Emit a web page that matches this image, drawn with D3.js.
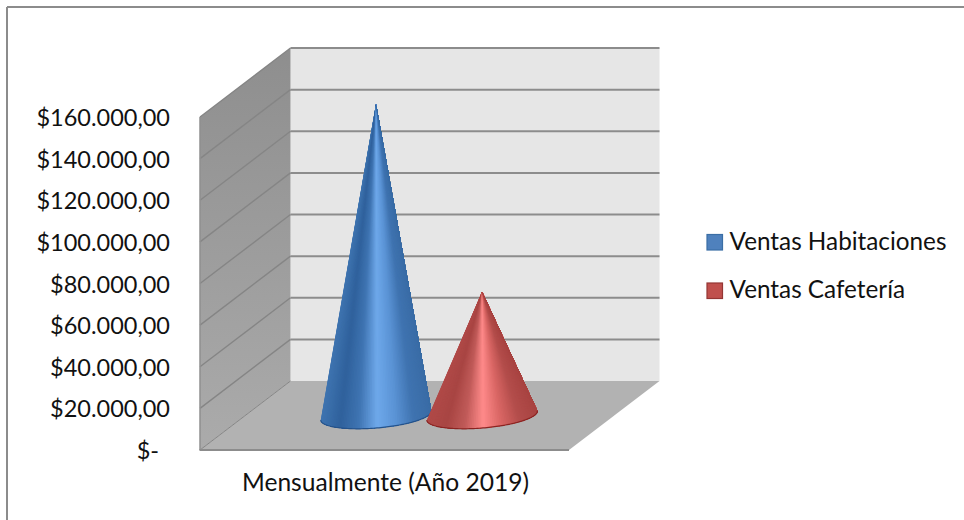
<!DOCTYPE html>
<html lang="es">
<head>
<meta charset="UTF-8">
<title>Ventas mensuales 2019</title>
<script src="https://d3js.org/d3.v7.min.js"></script>
<style>
    html, body { margin: 0; padding: 0; background: #fff; }
    svg { display: block; }
    text { font-family: Lato, "Open Sans", sans-serif; fill: #111; }
    .axis path, .axis line { display: none; }
</style>
</head>
<body>
<svg id="chart" width="964" height="520"></svg>
<script>
const category = "Mensualmente (Año 2019)";
const seriesNames = ["Ventas Habitaciones", "Ventas Cafetería"];
const seriesValues = [149700, 59400];
const tickValues = [0, 20000, 40000, 60000, 80000, 100000, 120000, 140000, 160000];
const tickLabels = ["$-", "$20.000,00", "$40.000,00", "$60.000,00", "$80.000,00",
    "$100.000,00", "$120.000,00", "$140.000,00", "$160.000,00"];
const legendFill = ["#4f81bd", "#c0504d"];
const legendEdge = ["#3b6ea5", "#943634"];
// shading across each cone, left edge to right edge
const coneShades = [
    ["#3f74b0", "#2f619c", "#3f74b2", "#6ea8ea", "#5b94d6", "#3f73b0", "#3a6ca6"],
    ["#b04a48", "#a84543", "#c05a58", "#ff8a8a", "#d96664", "#b34d4b", "#a84442"]
];
const rimColors = ["#24528a", "#8a2422"];

const svg = d3.select("#chart");

// front-left corner of the plot and the depth offset of the 3D box
const x0 = 200, x1 = 569;
const depth = { x: 90.5, y: -69 };

const y = d3.scaleLinear().domain([0, 160000]).range([450, 117]);
const x = d3.scaleBand().domain(seriesNames).range([x0, x1]).paddingInner(0).paddingOuter(0.74);

const poly = pts => "M" + pts.map(p => p.join(",")).join("L") + "Z";
const back = (px, py) => [px + depth.x, py + depth.y];

// chart frame, only the top and left edges are visible
svg.append("line").attr("x1", 7).attr("x2", 964).attr("y1", 7).attr("y2", 7)
    .attr("stroke", "#8c8c8c").attr("stroke-width", 2);
svg.append("line").attr("x1", 7).attr("x2", 7).attr("y1", 7).attr("y2", 520)
    .attr("stroke", "#8c8c8c").attr("stroke-width", 2);

const defs = svg.append("defs");
const wallGrad = defs.append("linearGradient").attr("id", "sideWall")
    .attr("x1", 0).attr("x2", 0).attr("y1", 0).attr("y2", 1);
wallGrad.append("stop").attr("offset", 0).attr("stop-color", "#8e8e8e");
wallGrad.append("stop").attr("offset", 1).attr("stop-color", "#ababab");

const yTop = y(160000), yBase = y(0);

// back wall
svg.append("path")
    .attr("d", poly([back(x0, yTop), back(x1, yTop), back(x1, yBase), back(x0, yBase)]))
    .attr("fill", "#e6e6e6");
// side wall
svg.append("path")
    .attr("d", poly([[x0, yTop], back(x0, yTop), back(x0, yBase), [x0, yBase]]))
    .attr("fill", "url(#sideWall)");
// floor
svg.append("path")
    .attr("d", poly([[x0, yBase], back(x0, yBase), back(x1, yBase), [x1, yBase]]))
    .attr("fill", "#b2b2b2");

// gridlines run along the side wall and the back wall
const grid = svg.append("g");
tickValues.forEach(v => {
    const yy = y(v);
    const b = back(x0, yy);
    if (v > 0) {
        grid.append("line").attr("x1", b[0]).attr("x2", back(x1, yy)[0]).attr("y1", b[1]).attr("y2", b[1])
            .attr("stroke", "#8c8c8c").attr("stroke-width", 2);
    }
    grid.append("line").attr("x1", x0).attr("x2", b[0]).attr("y1", yy).attr("y2", b[1])
        .attr("stroke", "#858585").attr("stroke-width", 1.4);
});
grid.select("line:first-child").attr("stroke-width", 1);
svg.append("line").attr("x1", x0).attr("x2", x0).attr("y1", yTop).attr("y2", yBase)
    .attr("stroke", "#8f8f8f").attr("stroke-width", 1.5);
svg.append("line").attr("x1", x0 - 0.5).attr("x2", x1).attr("y1", yBase).attr("y2", yBase)
    .attr("stroke", "#8c8c8c").attr("stroke-width", 2);

// cones stand halfway through the depth, base tilted slightly by the projection
const rx = 55.5, ry = 12.5, tilt = -4.8 * Math.PI / 180;

seriesNames.forEach((name, i) => {
    const cx = x(name) + x.bandwidth() / 2 + depth.x / 2 - 0.7;
    const cy = yBase + depth.y / 2;
    const apex = [cx, y(seriesValues[i]) + depth.y / 2];
    const color = d3.scaleLinear()
        .domain(coneShades[i].map((c, k) => k / (coneShades[i].length - 1)))
        .range(coneShades[i])
        .interpolate(d3.interpolateRgb);

    const basePoint = t => {
        // t runs over the front half of the base, from left end to right end
        const a = Math.PI - t * Math.PI;
        const ex = rx * Math.cos(a), ey = ry * Math.sin(a);
        return [cx + ex * Math.cos(tilt) - ey * Math.sin(tilt),
                cy + ex * Math.sin(tilt) + ey * Math.cos(tilt)];
    };

    const n = 90;
    const ts = d3.range(n + 1).map(k => k / n);
    const cone = svg.append("g").attr("class", "cone");
    // painted left to right, each fan covers the rest of the cone so no seams show
    ts.slice(0, -1).forEach((t, k) => {
        const shade = color(0.5 + (basePoint(t)[0] - cx) / rx / 2);
        cone.append("path")
            .attr("d", poly([apex].concat(ts.slice(k).map(basePoint))))
            .attr("fill", shade);
    });
    cone.append("path")
        .attr("d", d3.line()(ts.map(basePoint)))
        .attr("fill", "none").attr("stroke", rimColors[i]).attr("stroke-width", 1.2);
});

// value axis; the "$-" label sits further in, as accounting formats do
const axis = d3.axisLeft(y)
    .tickValues(tickValues)
    .tickFormat((d, k) => tickLabels[k])
    .tickSize(0).tickPadding(0);
const axisG = svg.append("g").attr("class", "axis")
    .attr("transform", "translate(170,1)")
    .call(axis);
axisG.selectAll("text").attr("font-size", 23.5);
axisG.selectAll(".tick").filter(d => d === 0).select("text").attr("dx", -11);
axisG.attr("font-family", null).attr("font-size", null);

svg.append("text").attr("x", 385.5).attr("y", 491).attr("text-anchor", "middle")
    .attr("font-size", 24.6).text(category);

// legend
const legend = svg.selectAll("g.legend").data(seriesNames).join("g")
    .attr("class", "legend")
    .attr("transform", (d, i) => `translate(707,${234.5 + i * 48.5})`);
legend.append("rect").attr("width", 15.5).attr("height", 15.5)
    .attr("fill", (d, i) => legendFill[i])
    .attr("stroke", (d, i) => legendEdge[i]).attr("stroke-width", 1.2);
legend.append("text").attr("x", 22.5).attr("y", 15).attr("font-size", 24.3).text(d => d);
</script>
</body>
</html>
